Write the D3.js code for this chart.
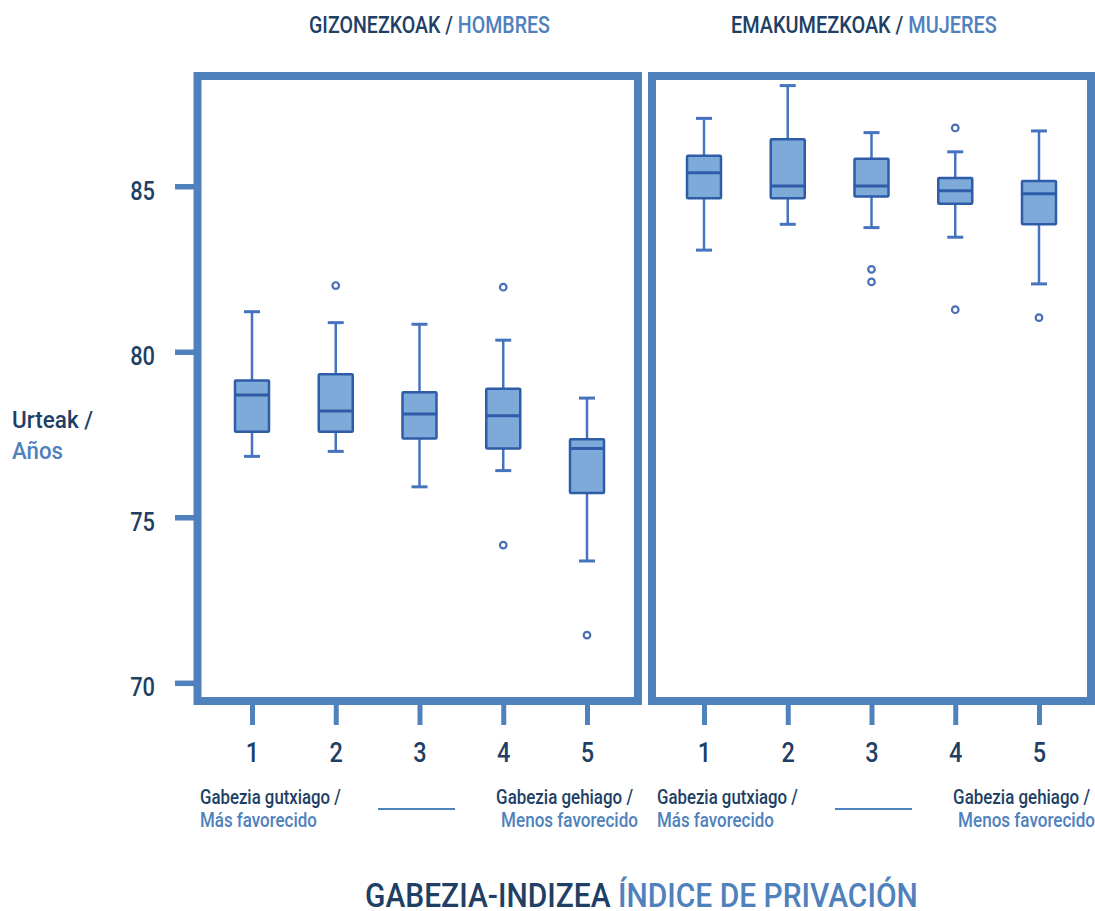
<!DOCTYPE html>
<html>
<head>
<meta charset="utf-8">
<script src="https://cdn.jsdelivr.net/npm/d3@7"></script>
<style>
  html, body { margin: 0; padding: 0; background: #ffffff; }
  svg { display: block; }
  text { font-family: "Roboto", "Liberation Sans", sans-serif; font-weight: 500; }
</style>
</head>
<body>
<svg id="chart" width="1095" height="911"></svg>
<script>
// Deprivation index quintiles (1 = least deprived, 5 = most deprived)
const categories = [1, 2, 3, 4, 5];
const yTicks = [70, 75, 80, 85];

// Life expectancy, men: whisker low, Q1, median, Q3, whisker high
const menLow    = [76.84, 76.99, 75.92, 76.41, 73.68];
const menQ1     = [77.58, 77.58, 77.38, 77.08, 75.73];
const menMedian = [78.69, 78.21, 78.12, 78.07, 77.08];
const menQ3     = [79.13, 79.32, 78.78, 78.88, 77.36];
const menHigh   = [81.21, 80.88, 80.83, 80.35, 78.60];
const menOutliers = [[], [82.0], [], [81.95, 74.16], [71.44]];

// Life expectancy, women
const womenLow    = [83.07, 83.85, 83.75, 83.46, 82.05];
const womenQ1     = [84.64, 84.64, 84.69, 84.47, 83.85];
const womenMedian = [85.41, 85.01, 85.01, 84.86, 84.77];
const womenQ3     = [85.92, 86.42, 85.83, 85.25, 85.16];
const womenHigh   = [87.05, 88.04, 86.62, 86.04, 86.67];
const womenOutliers = [[], [], [82.49, 82.11], [86.76, 81.27], [81.03]];

const NAVY = "#213f64";
const LIGHT = "#4f81bd";
const FRAME = "#4f81bd";
const BOX_FILL = "#7eaad9";
const BOX_STROKE = "#2f5ca8";
const WHISKER = "#4673bd";
const NARROW = 0.84;   // horizontal condensation for tick numerals

const svg = d3.select("#chart");

const y = d3.scaleLinear().domain([69.45, 88.33]).range([701, 76]);

const panels = [
  { left: 197.5, right: 638, range: [252, 587],
    low: menLow, q1: menQ1, med: menMedian, q3: menQ3, high: menHigh, out: menOutliers },
  { left: 652, right: 1091, range: [704, 1039],
    low: womenLow, q1: womenQ1, med: womenMedian, q3: womenQ3, high: womenHigh, out: womenOutliers }
];

const boxW = 34, capW = 16;

panels.forEach(p => {
  const x = d3.scalePoint().domain(categories).range(p.range);

  // bottom axis ticks with quintile numbers
  const xAxis = d3.axisBottom(x).tickSize(21).tickPadding(0);
  const gx = svg.append("g").attr("transform", "translate(0,704)").call(xAxis);
  gx.select(".domain").remove();
  gx.selectAll(".tick line").attr("stroke", FRAME).attr("stroke-width", 5);
  gx.selectAll(".tick text")
    .attr("fill", NAVY).attr("font-size", 28)
    .attr("font-family", "Roboto, sans-serif").attr("font-weight", 500)
    .attr("y", 0).attr("dy", 0)
    .attr("transform", `translate(0,58) scale(${NARROW},1)`);

  const g = svg.append("g");
  const stats = categories.map((c, i) => ({
    c, low: p.low[i], q1: p.q1[i], med: p.med[i], q3: p.q3[i], high: p.high[i], out: p.out[i]
  }));

  const bx = g.selectAll("g.box").data(stats).join("g").attr("class", "box");

  // whiskers
  bx.append("line")
    .attr("x1", d => x(d.c)).attr("x2", d => x(d.c))
    .attr("y1", d => y(d.high)).attr("y2", d => y(d.q3))
    .attr("stroke", WHISKER).attr("stroke-width", 2.5);
  bx.append("line")
    .attr("x1", d => x(d.c)).attr("x2", d => x(d.c))
    .attr("y1", d => y(d.q1)).attr("y2", d => y(d.low))
    .attr("stroke", WHISKER).attr("stroke-width", 2.5);
  // whisker caps
  ["high", "low"].forEach(k => {
    bx.append("line")
      .attr("x1", d => x(d.c) - capW / 2).attr("x2", d => x(d.c) + capW / 2)
      .attr("y1", d => y(d[k])).attr("y2", d => y(d[k]))
      .attr("stroke", WHISKER).attr("stroke-width", 3);
  });
  // interquartile box
  bx.append("rect")
    .attr("x", d => x(d.c) - boxW / 2).attr("width", boxW)
    .attr("y", d => y(d.q3)).attr("height", d => y(d.q1) - y(d.q3))
    .attr("fill", BOX_FILL).attr("stroke", BOX_STROKE).attr("stroke-width", 2.5).attr("rx", 1);
  // median
  bx.append("line")
    .attr("x1", d => x(d.c) - boxW / 2).attr("x2", d => x(d.c) + boxW / 2)
    .attr("y1", d => y(d.med)).attr("y2", d => y(d.med))
    .attr("stroke", BOX_STROKE).attr("stroke-width", 3);
  // outliers
  bx.selectAll("circle").data(d => d.out.map(v => ({ c: d.c, v }))).join("circle")
    .attr("cx", d => x(d.c)).attr("cy", d => y(d.v)).attr("r", 3.3)
    .attr("fill", "#ffffff").attr("stroke", "#4a6fb8").attr("stroke-width", 2.2);

  // panel frame
  svg.append("rect")
    .attr("x", p.left).attr("y", 76)
    .attr("width", p.right - p.left).attr("height", 701 - 76)
    .attr("fill", "none").attr("stroke", FRAME).attr("stroke-width", 8);
});

// left value axis
const yAxis = d3.axisLeft(y).tickValues(yTicks).tickSize(22).tickPadding(0);
const gy = svg.append("g").attr("transform", "translate(197,0)").call(yAxis);
gy.select(".domain").remove();
gy.selectAll(".tick line").attr("stroke", FRAME).attr("stroke-width", 5.5);
gy.selectAll(".tick text")
  .attr("fill", NAVY).attr("font-size", 26)
  .attr("font-family", "Roboto, sans-serif").attr("font-weight", 500)
  .attr("x", 0).attr("dy", 0)
  .attr("transform", `translate(-42,13) scale(${NARROW},1)`);

// condensed two-tone text, squeezed horizontally to a given width
function label(x, yPos, parts, size, anchor, width) {
  const g = svg.append("g");
  const t = g.append("text").attr("font-size", size).attr("text-anchor", anchor || "start");
  parts.forEach(([s, c]) => t.append("tspan").attr("fill", c).text(s));
  const w = t.node().getComputedTextLength();
  const s = width ? width / w : 0.82;
  g.attr("transform", `translate(${x},${yPos}) scale(${s},1)`);
  return t;
}

// panel headings
label(309, 33, [["GIZONEZKOAK / ", NAVY], ["HOMBRES", LIGHT]], 24.5, "start", 241);
label(731, 33, [["EMAKUMEZKOAK / ", NAVY], ["MUJERES", LIGHT]], 24.5, "start", 266);

// y axis title
label(12, 428, [["Urteak /", NAVY]], 23.5, "start", 81);
label(12, 459, [["Años", LIGHT]], 23.5, "start", 51);

// deprivation direction notes
const notes = [
  { l: 200, r: 638, dash: [378, 455] },
  { l: 657, r: 1095, dash: [835, 912] }
];
notes.forEach(n => {
  label(n.l, 804, [["Gabezia gutxiago /", NAVY]], 21, "start", 141);
  label(n.l, 827, [["Más favorecido", LIGHT]], 21, "start", 117);
  label(n.r - 5, 804, [["Gabezia gehiago /", NAVY]], 21, "end", 137);
  label(n.r, 827, [["Menos favorecido", LIGHT]], 21, "end", 137);
  svg.append("line").attr("x1", n.dash[0]).attr("x2", n.dash[1])
    .attr("y1", 809).attr("y2", 809).attr("stroke", LIGHT).attr("stroke-width", 2);
});

// x axis title
label(365, 907, [["GABEZIA-INDIZEA  ", NAVY], ["ÍNDICE DE PRIVACIÓN", LIGHT]], 34, "start", 553);
</script>
</body>
</html>
